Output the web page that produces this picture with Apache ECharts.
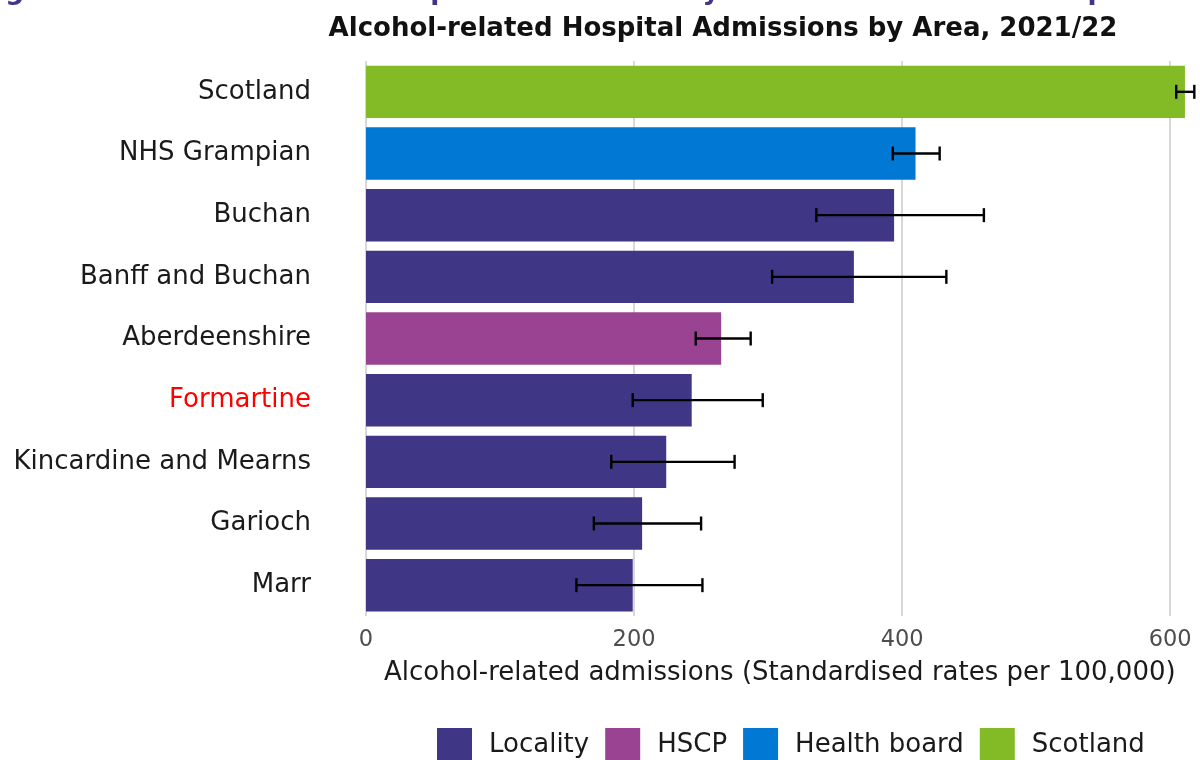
<!DOCTYPE html>
<html>
<head>
<meta charset="utf-8">
<script src="https://cdn.jsdelivr.net/npm/echarts@6/dist/echarts.min.js"></script>
<style>
html,body{margin:0;padding:0;background:#fff;}
#chart{width:1200px;height:760px;}
</style>
</head>
<body>
<div id="chart"></div>
<script>
var categories = ['Scotland','NHS Grampian','Buchan','Banff and Buchan','Aberdeenshire','Formartine','Kincardine and Mearns','Garioch','Marr'];
var areaTypes = ['Scotland','Health board','Locality','Locality','HSCP','Locality','Locality','Locality','Locality'];
var rates = [611, 410, 394, 364, 265, 243, 224, 206, 199];
var lowerCI = [604.5, 393, 336, 303, 246, 199, 183, 170, 157];
var upperCI = [618, 428, 461, 433, 287, 296, 275, 250, 251];
var legendOrder = ['Locality','HSCP','Health board','Scotland'];
var typeColors = {'Locality':'#3F3685','HSCP':'#9B4393','Health board':'#0078D4','Scotland':'#83BB26'};
var highlightArea = 'Formartine';
var xTicks = [0, 200, 400, 600];
var chartTitle = 'Alcohol-related Hospital Admissions by Area, 2021/22';
var captionText = 'Figure 10: Alcohol-related hospital admissions by area for the latest time period';
var xAxisTitle = 'Alcohol-related admissions (Standardised rates per 100,000)';

var chart = echarts.init(document.getElementById('chart'), null, {renderer:'canvas'});

var barSeries = legendOrder.map(function(t){
  return {
    name: t,
    type: 'bar',
    stack: 'all',
    barCategoryGap: '15%',
    itemStyle: {color: typeColors[t]},
    data: rates.map(function(v,i){ return areaTypes[i] === t ? v : '-'; }),
    z: 2
  };
});

var errData = categories.map(function(c,i){ return [i, lowerCI[i], upperCI[i]]; });

var option = {
  animation: false,
  backgroundColor: '#ffffff',
  title: {
    text: chartTitle,
    left: 718, top: 11, textAlign: 'center',
    textStyle: {fontFamily: 'DejaVu Sans', fontWeight: 'bold', fontSize: 26, color: '#111111'}
  },
  graphic: [
    {type:'text', left: -22, top: -21, silent: true,
     style:{text: captionText, font: 'bold 26.5px "DejaVu Sans"', fill:'#3F3685'}},
    {type:'text', left: 384, top: 660, silent: true,
     style:{text: xAxisTitle, font: '26px "DejaVu Sans"', fill:'#1a1a1a'}}
  ],
  legend: {
    data: legendOrder,
    left: 432, top: 723,
    itemWidth: 35, itemHeight: 34, itemGap: 16,
    icon: 'rect',
    textStyle: {fontFamily:'DejaVu Sans', fontSize: 26, color:'#1a1a1a', padding:[0,0,0,12]}
  },
  grid: {left: 366, top: 61, right: 0, height: 555, containLabel: false},
  xAxis: {
    type: 'value', min: 0, max: 620, interval: 200,
    axisLine: {show:false}, axisTick: {show:false},
    splitLine: {show:true, lineStyle:{color:['#cfcfcf','#cfcfcf','#cfcfcf','#cfcfcf','rgba(0,0,0,0)'], width:1.6}},
    axisLabel: {fontFamily:'DejaVu Sans', fontSize: 22.5, color:'#4d4d4d', margin: 13,
      formatter: function(v){ return xTicks.indexOf(v) >= 0 ? String(v) : ''; }}
  },
  yAxis: {
    type: 'category', data: categories, inverse: true,
    axisLine: {show:false}, axisTick: {show:false},
    axisLabel: {fontFamily:'DejaVu Sans', fontSize: 26, margin: 55,
      color: function(v){ return v === highlightArea ? '#FF0000' : '#1a1a1a'; }}
  },
  series: barSeries.concat([{
    type: 'custom',
    name: 'CI',
    data: errData,
    encode: {x:[1,2], y:0},
    z: 5,
    silent: true,
    renderItem: function(params, api){
      var yi = api.value(0);
      var lo = api.coord([api.value(1), yi]);
      var hi = api.coord([api.value(2), yi]);
      var h = 7;
      var st = {stroke:'#000', lineWidth: 2.4};
      return {type:'group', children:[
        {type:'line', shape:{x1:lo[0], y1:lo[1], x2:hi[0], y2:hi[1]}, style:st},
        {type:'line', shape:{x1:lo[0], y1:lo[1]-h, x2:lo[0], y2:lo[1]+h}, style:st},
        {type:'line', shape:{x1:hi[0], y1:hi[1]-h, x2:hi[0], y2:hi[1]+h}, style:st}
      ]};
    }
  }])
};
chart.setOption(option);
</script>
</body>
</html>
